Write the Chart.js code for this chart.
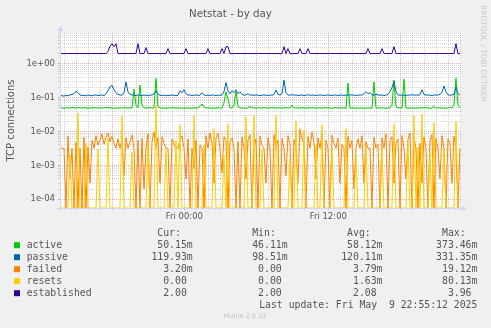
<!DOCTYPE html>
<html>
<head>
<meta charset="utf-8">
<title>Netstat - by day</title>
<script src="https://cdn.jsdelivr.net/npm/chart.js@4.4.1/dist/chart.umd.min.js"></script>
<style>
  html, body { margin: 0; padding: 0; background: #f0f0f0; }
  #wrap { width: 491px; height: 328px; }
</style>
</head>
<body>
<div id="wrap"><canvas id="netstat" width="491" height="328"></canvas></div>
<script>
// time axis in hours relative to Fri 00:00, one sample every 10 minutes
const startHour = -10.36;
const endHour = 23.06;
const stepHours = 10 / 60;
const hourTicks = [-10, -9, -8, -7, -6, -5, -4, -3, -2, -1, 0, 1, 2, 3, 4, 5, 6, 7, 8, 9, 10, 11,
  12, 13, 14, 15, 16, 17, 18, 19, 20, 21, 22, 23];
const majorHours = [-6, 0, 6, 12, 18];
const hourLabels = { 0: 'Fri 00:00', 12: 'Fri 12:00' };

// log y axis
const yMin = 5.5e-5;
const yMax = 8.1;
const decades = [-4, -3, -2, -1, 0];
const minorSteps = [1, 2, 3, 4, 5, 6, 7, 8, 9];

const seriesNames = ['active', 'passive', 'failed', 'resets', 'established'];
const seriesColors = ['#00cc00', '#0066b3', '#ff8000', '#ffcc00', '#330099'];

const active = [
  0.049, 0.05, 0.048, 0.051, 0.049, 0.05, 0.052, 0.05, 0.049, 0.051,
  0.05, 0.049, 0.051, 0.05, 0.048, 0.05, 0.049, 0.051, 0.05, 0.049,
  0.05, 0.049, 0.051, 0.05, 0.052, 0.049, 0.05, 0.048, 0.05, 0.049,
  0.05, 0.049, 0.051, 0.05, 0.049, 0.05, 0.05, 0.175, 0.06, 0.05,
  0.235, 0.06, 0.05, 0.049, 0.05, 0.051, 0.049, 0.05, 0.37, 0.055,
  0.05, 0.049, 0.05, 0.048, 0.05, 0.049, 0.051, 0.05, 0.049, 0.05,
  0.049, 0.05, 0.048, 0.05, 0.049, 0.05, 0.048, 0.05, 0.049, 0.05,
  0.055, 0.065, 0.052, 0.05, 0.049, 0.05, 0.048, 0.05, 0.049, 0.05,
  0.05, 0.049, 0.07, 0.15, 0.09, 0.05, 0.049, 0.06, 0.15, 0.055,
  0.05, 0.049, 0.05, 0.048, 0.05, 0.055, 0.05, 0.05, 0.049, 0.05,
  0.05, 0.049, 0.051, 0.05, 0.049, 0.05, 0.051, 0.05, 0.049, 0.05,
  0.05, 0.049, 0.05, 0.051, 0.05, 0.049, 0.06, 0.05, 0.049, 0.05,
  0.049, 0.05, 0.051, 0.048, 0.05, 0.049, 0.051, 0.05, 0.048, 0.05,
  0.05, 0.049, 0.05, 0.051, 0.049, 0.05, 0.048, 0.05, 0.051, 0.049,
  0.05, 0.049, 0.05, 0.048, 0.27, 0.05, 0.049, 0.05, 0.048, 0.05,
  0.049, 0.05, 0.048, 0.05, 0.049, 0.05, 0.048, 0.29, 0.05, 0.049,
  0.05, 0.049, 0.05, 0.048, 0.05, 0.049, 0.06, 0.33, 0.055, 0.05,
  0.05, 0.049, 0.35, 0.05, 0.048, 0.05, 0.049, 0.05, 0.048, 0.05,
  0.049, 0.05, 0.052, 0.049, 0.05, 0.048, 0.05, 0.055, 0.049, 0.05,
  0.05, 0.049, 0.05, 0.048, 0.05, 0.052, 0.049, 0.06, 0.37, 0.06,
  0.05
];

const passive = [
  0.112, 0.115, 0.11, 0.118, 0.113, 0.12, 0.125, 0.13, 0.155, 0.14,
  0.12, 0.115, 0.118, 0.112, 0.12, 0.116, 0.113, 0.118, 0.12, 0.115,
  0.118, 0.12, 0.115, 0.13, 0.16, 0.21, 0.23, 0.17, 0.14, 0.125,
  0.12, 0.118, 0.14, 0.29, 0.15, 0.125, 0.12, 0.118, 0.115, 0.12,
  0.118, 0.115, 0.12, 0.117, 0.113, 0.118, 0.12, 0.13, 0.16, 0.125,
  0.118, 0.115, 0.12, 0.113, 0.118, 0.115, 0.12, 0.117, 0.115, 0.118,
  0.16, 0.14, 0.17, 0.13, 0.118, 0.12, 0.115, 0.118, 0.12, 0.117,
  0.118, 0.14, 0.12, 0.116, 0.118, 0.115, 0.12, 0.118, 0.115, 0.118,
  0.118, 0.12, 0.15, 0.28, 0.16, 0.13, 0.16, 0.14, 0.17, 0.13,
  0.15, 0.125, 0.118, 0.12, 0.13, 0.118, 0.12, 0.116, 0.12, 0.118,
  0.115, 0.118, 0.12, 0.118, 0.115, 0.12, 0.118, 0.122, 0.17, 0.125,
  0.12, 0.13, 0.33, 0.14, 0.12, 0.118, 0.122, 0.118, 0.12, 0.115,
  0.118, 0.12, 0.115, 0.118, 0.122, 0.116, 0.12, 0.118, 0.115, 0.12,
  0.118, 0.12, 0.115, 0.118, 0.12, 0.117, 0.115, 0.12, 0.118, 0.116,
  0.118, 0.12, 0.115, 0.12, 0.118, 0.122, 0.118, 0.12, 0.115, 0.118,
  0.12, 0.118, 0.13, 0.15, 0.13, 0.14, 0.12, 0.118, 0.125, 0.12,
  0.118, 0.12, 0.115, 0.118, 0.125, 0.15, 0.2, 0.3, 0.15, 0.12,
  0.118, 0.12, 0.118, 0.115, 0.12, 0.118, 0.122, 0.118, 0.12, 0.118,
  0.12, 0.17, 0.125, 0.118, 0.12, 0.118, 0.115, 0.12, 0.118, 0.12,
  0.125, 0.14, 0.22, 0.15, 0.12, 0.118, 0.12, 0.125, 0.2, 0.13,
  0.12
];

// failed and resets are in thousandths (the "m" of the legend)
const failedM = [
  3.2, 3.2, 3.2, 0, 7.2, 0.4, 3.2, 0, 4.8, 0,
  3.2, 0, 6.8, 0, 3.5, 0.3, 5.5, 3.2, 7.5, 4.0,
  5.5, 8.5, 4.2, 6.8, 9.0, 5.0, 7.2, 4.5, 3.2, 6.0,
  3.2, 5.8, 0.5, 6.5, 3.2, 4.8, 7.8, 3.2, 0, 5.5,
  0, 6.2, 0.2, 3.2, 8.5, 0, 5.0, 9.5, 3.2, 6.5,
  0.3, 7.0, 4.5, 3.2, 3.2, 0, 6.0, 4.2, 3.2, 3.2,
  5.5, 7.5, 3.2, 0.4, 6.0, 0, 3.2, 0.8, 5.5, 0,
  4.0, 3.2, 0, 7.5, 3.2, 9.0, 4.5, 0.3, 6.5, 8.8,
  3.2, 0.6, 7.0, 5.5, 0, 4.8, 6.5, 3.2, 0, 5.0,
  0, 6.8, 3.2, 0.4, 5.5, 7.8, 0, 3.2, 6.0, 0,
  7.2, 4.0, 3.2, 0.3, 6.5, 3.2, 0, 8.0, 3.2, 5.5,
  0, 6.2, 3.2, 0.5, 7.5, 4.2, 0, 5.8, 3.2, 0.3,
  12.0, 6.0, 4.5, 0, 7.0, 3.2, 9.5, 5.0, 0.4, 6.5,
  3.2, 8.0, 0, 5.5, 3.2, 0, 7.8, 4.5, 3.2, 6.5,
  0.3, 4.2, 3.2, 0, 7.2, 3.2, 5.5, 0.2, 3.2, 6.0,
  3.2, 7.5, 0.3, 5.0, 3.2, 3.2, 0, 6.8, 3.2, 4.2,
  0, 6.5, 3.2, 8.5, 0, 5.5, 7.0, 0.3, 4.5, 6.0,
  0, 7.5, 3.2, 0.4, 5.8, 9.0, 0, 6.5, 3.2, 0,
  4.5, 0.3, 7.0, 3.2, 0, 5.5, 8.0, 0, 6.2, 3.2,
  0.4, 7.5, 3.2, 0, 6.0, 4.5, 0.3, 7.2, 3.2, 0,
  3.2
];

const resetsM = [
  0, 0, 0, 0, 0, 2.0, 0, 0, 0, 35,
  0, 0, 0, 4.5, 0, 0, 0, 0, 0, 3.0,
  0, 0, 0, 0, 6.0, 0, 0, 0, 0, 0,
  0, 29, 0, 0, 0, 0, 2.5, 0, 0, 0,
  0, 0, 0, 0, 4.5, 0, 0, 0, 60, 0,
  0, 0, 0, 3.0, 0, 0, 0, 0, 5.5, 0,
  16, 0, 0, 0, 0, 0, 0, 30, 0, 0,
  0, 0, 4.0, 0, 0, 0, 0, 12, 0, 0,
  0, 0, 2.0, 0, 17, 0, 0, 0, 0, 0,
  0, 0, 0, 27, 0, 0, 0, 30, 0, 0,
  0, 3.0, 0, 0, 0, 0, 0, 0, 30, 0,
  0, 0, 0, 0, 0, 1.5, 0, 0, 20, 0,
  0, 0, 11, 0, 0, 0, 0, 0, 4.0, 0,
  0, 16, 0, 0, 0, 0, 3.5, 0, 0, 0,
  0, 0, 0, 12, 0, 0, 0, 0, 2.0, 0,
  0, 0, 0, 4.0, 0, 0, 0, 0, 0, 0,
  0, 3.5, 0, 0, 0, 0, 0, 17, 0, 0,
  0, 0, 0, 0, 5.0, 0, 0, 30, 0, 3.5,
  0, 32, 0, 0, 0, 2.5, 0, 18, 0, 0,
  0, 0, 3.5, 0, 0, 0, 0, 0, 20, 0,
  0
];

const established = [
  2, 2, 2, 2, 2, 2, 2, 2, 2, 2,
  2, 2, 2, 2, 2, 2, 2, 2, 2, 2,
  2, 2, 2, 2, 2.3, 3.3, 3.9, 3.2, 3.9, 2,
  2, 2, 2, 2, 2, 2, 2, 2, 2, 3.9,
  2, 2, 2, 3, 2, 2, 2, 2, 2, 2,
  2, 2, 2, 2, 2.8, 2, 2, 2, 2, 2,
  2, 2, 2, 2.8, 2, 2, 2, 2, 2, 2,
  2, 2, 2, 2, 2.8, 2, 2, 2, 2, 2,
  2, 2.8, 2, 3.2, 3.2, 2, 2, 2, 2, 2,
  2, 2, 2, 2, 2, 2, 2, 2, 2, 2,
  2, 2, 2, 2, 2, 2, 2, 2, 2, 2,
  2, 2, 3.2, 2, 2.8, 2, 2, 2, 2, 2,
  2.8, 2, 2, 2, 2.8, 2, 2, 2, 2, 2,
  2, 2, 2, 2, 2, 2, 2, 2, 2, 2,
  2, 2, 2, 2, 2, 2, 2, 2, 2, 2,
  2, 2, 2, 2, 2.8, 2, 2, 2, 2, 2,
  2, 2.8, 2, 2, 2, 2, 2, 3.2, 2, 2,
  2, 2, 2, 2, 2, 2, 2, 2, 2, 2,
  2, 2, 2, 2, 2, 2, 2, 2, 2, 2,
  2, 2, 2, 2, 2, 2, 2, 2, 3.9, 2,
  2
];

// legend statistics, as printed by munin
const curValues = ['50.15m', '119.93m', '3.20m', '0.00 ', '2.00 '];
const minValues = ['46.11m', '98.51m', '0.00 ', '0.00 ', '2.00 '];
const avgValues = ['58.12m', '120.11m', '3.79m', '1.63m', '2.08 '];
const maxValues = ['373.46m', '331.35m', '19.12m', '80.13m', '3.96 '];
const lastUpdate = 'Last update: Fri May  9 22:55:12 2025';

// zero cannot sit on a log axis: like rrdtool, draw it on the floor of the graph
function points(values, scale) {
  return values.map((v, i) => ({ x: startHour + i * stepHours, y: v > 0 ? v * scale : yMin }));
}

function decadeLabel(v) {
  const e = Math.round(Math.log10(v));
  if (Math.abs(v - Math.pow(10, e)) > Math.pow(10, e) * 1e-6) return '';
  const a = Math.abs(e);
  return '1e' + (e < 0 ? '-' : '+') + (a < 10 ? '0' : '') + a;
}

const muninDecor = {
  id: 'muninDecor',
  beforeDraw(chart) {
    const { ctx, chartArea: a } = chart;
    ctx.save();
    ctx.fillStyle = '#f0f0f0';
    ctx.fillRect(0, 0, chart.width, chart.height);
    ctx.fillStyle = '#ffffff';
    ctx.fillRect(a.left, a.top, a.right - a.left, a.bottom - a.top);
    ctx.restore();
  },
  afterDraw(chart) {
    const { ctx, chartArea: a } = chart;
    ctx.save();

    // axes with arrows
    ctx.strokeStyle = '#cfd6f8';
    ctx.fillStyle = '#cfd6f8';
    ctx.lineWidth = 1;
    ctx.beginPath();
    ctx.moveTo(a.left - 3, a.bottom + 0.5);
    ctx.lineTo(a.right + 2, a.bottom + 0.5);
    ctx.moveTo(a.left + 0.5, a.bottom + 3);
    ctx.lineTo(a.left + 0.5, a.top - 3);
    ctx.stroke();
    ctx.beginPath();
    ctx.moveTo(a.right + 1, a.bottom - 2.5);
    ctx.lineTo(a.right + 6, a.bottom + 0.5);
    ctx.lineTo(a.right + 1, a.bottom + 3.5);
    ctx.closePath();
    ctx.fill();
    ctx.beginPath();
    ctx.moveTo(a.left - 2.5, a.top - 2);
    ctx.lineTo(a.left + 0.5, a.top - 7);
    ctx.lineTo(a.left + 3.5, a.top - 2);
    ctx.closePath();
    ctx.fill();

    // watermark
    ctx.save();
    ctx.translate(482.5, 5);
    ctx.rotate(Math.PI / 2);
    ctx.font = '7.5px "DejaVu Sans"';
    ctx.fillStyle = '#c8c8c8';
    ctx.textAlign = 'left';
    ctx.textBaseline = 'middle';
    ctx.fillText('RRDTOOL / TOBI OETIKER', 0, 0);
    ctx.restore();

    // legend table
    const cols = [192.7, 287.6, 382.5, 477.4];
    ctx.font = '9.8px "DejaVu Sans Mono"';
    ctx.fillStyle = '#555';
    ctx.textBaseline = 'middle';
    ctx.textAlign = 'right';
    ['Cur:  ', 'Min:  ', 'Avg:  ', 'Max:  '].forEach((h, c) => ctx.fillText(h, cols[c], 233.5));
    seriesNames.forEach((name, r) => {
      const y = 245.7 + r * 12;
      ctx.fillStyle = seriesColors[r];
      ctx.fillRect(14, y - 3.5, 6, 6);
      ctx.fillStyle = '#555';
      ctx.textAlign = 'left';
      ctx.fillText(name, 26.7, y);
      ctx.textAlign = 'right';
      [curValues, minValues, avgValues, maxValues].forEach((vals, c) => ctx.fillText(vals[r], cols[c], y));
    });
    ctx.fillText(lastUpdate, cols[3], 305.7);

    ctx.font = '6.5px "DejaVu Sans"';
    ctx.fillStyle = '#c0c0c0';
    ctx.textAlign = 'center';
    ctx.fillText('Munin 2.0.33', 245, 316.3);
    ctx.restore();
  }
};

Chart.defaults.font.family = "'DejaVu Sans', sans-serif";

const minorGrid = 'rgba(150,150,150,0.4)';
const majorGrid = 'rgba(230,90,90,0.5)';

const ctx = document.getElementById('netstat').getContext('2d');
new Chart(ctx, {
  type: 'line',
  data: {
    datasets: [
      { label: 'active', data: points(active, 1), order: 4 },
      { label: 'passive', data: points(passive, 1), order: 3 },
      { label: 'failed', data: points(failedM, 0.001), order: 2 },
      { label: 'resets', data: points(resetsM, 0.001), order: 1 },
      { label: 'established', data: points(established, 1), order: 0 }
    ].map((d, i) => Object.assign(d, {
      borderColor: seriesColors[i],
      backgroundColor: seriesColors[i],
      borderWidth: 1,
      pointRadius: 0,
      tension: 0,
      fill: false
    }))
  },
  options: {
    responsive: false,
    animation: false,
    layout: { padding: { left: 0, right: 30, top: 0, bottom: 100 } },
    plugins: {
      legend: { display: false },
      tooltip: { enabled: false },
      title: {
        display: true,
        text: 'Netstat - by day',
        color: '#555',
        font: { size: 10.3, weight: 'normal', lineHeight: '12px' },
        padding: { top: 8, bottom: 13 }
      }
    },
    scales: {
      x: {
        type: 'linear',
        min: startHour,
        max: endHour,
        afterBuildTicks: s => { s.ticks = hourTicks.map(h => ({ value: h })); },
        afterFit: s => { s.height = 20; },
        grid: {
          color: c => majorHours.includes(c.tick && c.tick.value) ? majorGrid : minorGrid,
          tickLength: 2
        },
        border: { display: false, dash: [1, 1] },
        ticks: {
          autoSkip: false,
          maxRotation: 0,
          padding: 2,
          color: '#555',
          font: { size: 8.5 },
          callback: v => hourLabels[v] || ''
        }
      },
      y: {
        type: 'logarithmic',
        min: yMin,
        max: yMax,
        afterBuildTicks: s => {
          const t = [];
          decades.forEach(d => minorSteps.forEach(m => {
            const v = m * Math.pow(10, d);
            if (v > yMin && v < yMax) t.push({ value: v });
          }));
          s.ticks = t;
        },
        afterFit: s => { s.width = 60; },
        grid: {
          color: c => (c.tick && decadeLabel(c.tick.value)) ? majorGrid : minorGrid,
          tickLength: 2
        },
        border: { display: false, dash: [1, 1] },
        title: {
          display: true,
          text: 'TCP connections',
          color: '#555',
          font: { size: 10, lineHeight: '12px' },
          padding: { top: 5, bottom: 0 }
        },
        ticks: {
          autoSkip: false,
          padding: 3,
          color: '#555',
          font: { size: 8.5 },
          callback: v => decadeLabel(v)
        }
      }
    }
  },
  plugins: [muninDecor]
});
</script>
</body>
</html>
